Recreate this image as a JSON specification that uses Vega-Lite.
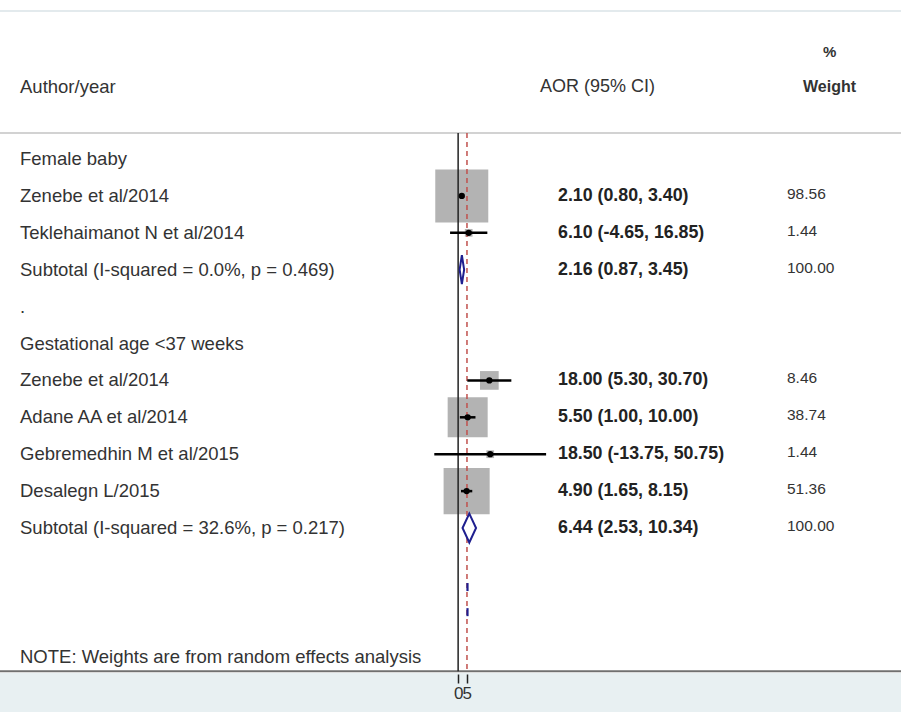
{
  "$schema": "https://vega.github.io/schema/vega-lite/v6.json",
  "width": 901,
  "height": 712,
  "padding": 0,
  "autosize": {"type": "none"},
  "background": "white",
  "config": {"view": {"stroke": null}, "font": "Liberation Sans"},
  "datasets": {
    "rows": [
      {"row": 1, "kind": "group", "label": "Female baby"},
      {"row": 2, "kind": "study", "label": "Zenebe et al/2014", "est": 2.10, "lci": 0.80, "uci": 3.40, "weight": 98.56, "aor": "2.10 (0.80, 3.40)", "wt": "98.56"},
      {"row": 3, "kind": "study", "label": "Teklehaimanot N et al/2014", "est": 6.10, "lci": -4.65, "uci": 16.85, "weight": 1.44, "aor": "6.10 (-4.65, 16.85)", "wt": "1.44"},
      {"row": 4, "kind": "subtotal", "label": "Subtotal  (I-squared = 0.0%, p = 0.469)", "est": 2.16, "lci": 0.87, "uci": 3.45, "weight": 100, "aor": "2.16 (0.87, 3.45)", "wt": "100.00"},
      {"row": 5, "kind": "spacer", "label": "."},
      {"row": 6, "kind": "group", "label": "Gestational age <37 weeks"},
      {"row": 7, "kind": "study", "label": "Zenebe et al/2014", "est": 18.00, "lci": 5.30, "uci": 30.70, "weight": 8.46, "aor": "18.00 (5.30, 30.70)", "wt": "8.46"},
      {"row": 8, "kind": "study", "label": "Adane AA et al/2014", "est": 5.50, "lci": 1.00, "uci": 10.00, "weight": 38.74, "aor": "5.50 (1.00, 10.00)", "wt": "38.74"},
      {"row": 9, "kind": "study", "label": "Gebremedhin M et al/2015", "est": 18.50, "lci": -13.75, "uci": 50.75, "weight": 1.44, "aor": "18.50 (-13.75, 50.75)", "wt": "1.44"},
      {"row": 10, "kind": "study", "label": "Desalegn L/2015", "est": 4.90, "lci": 1.65, "uci": 8.15, "weight": 51.36, "aor": "4.90 (1.65, 8.15)", "wt": "51.36"},
      {"row": 11, "kind": "subtotal", "label": "Subtotal  (I-squared = 32.6%, p = 0.217)", "est": 6.44, "lci": 2.53, "uci": 10.34, "weight": 100, "aor": "6.44 (2.53, 10.34)", "wt": "100.00"},
      {"row": 14.5, "kind": "note", "label": "NOTE: Weights are from random effects analysis"}
    ],
    "dashes": [
      {"row": 12.6, "x": 5.4},
      {"row": 13.28, "x": 5.4}
    ]
  },
  "data": {"name": "rows"},
  "layer": [
    {
      "data": {"values": [{}]},
      "mark": {"type": "rect", "color": "#e8f0f2"},
      "encoding": {
        "y": {"datum": 14.93, "type": "quantitative", "scale": {"domain": [-3.309, 15.986], "reverse": true, "nice": false, "zero": false}, "axis": null},
        "y2": {"datum": 15.986}
      }
    },
    {
      "data": {"values": [{}]},
      "mark": {"type": "rule", "color": "#e3eaed", "strokeWidth": 2},
      "encoding": {"y": {"datum": -3.011, "type": "quantitative", "axis": null}}
    },
    {
      "data": {"values": [{}]},
      "mark": {"type": "rule", "color": "#d2d2d2", "strokeWidth": 2},
      "encoding": {"y": {"datum": 0.295, "type": "quantitative", "axis": null}}
    },
    {
      "data": {"values": [{}]},
      "mark": {"type": "rule", "color": "#707070", "strokeWidth": 2},
      "encoding": {"y": {"datum": 14.88, "type": "quantitative", "axis": null}}
    },
    {
      "transform": [{"filter": "datum.kind === 'study'"}],
      "mark": {"type": "point", "shape": "square", "filled": true, "color": "#b3b3b3", "opacity": 1},
      "encoding": {
        "x": {"field": "est", "type": "quantitative", "scale": {"domain": [-22, 53], "range": [420, 550], "nice": false, "zero": false},
              "axis": {"values": [0, 5], "orient": "bottom", "offset": -38, "zindex": 2, "domain": false, "grid": false, "tickSize": 9, "tickColor": "#222", "tickWidth": 1.5, "labelFontSize": 17, "labelColor": "#333", "labelPadding": 2, "labelOverlap": false, "labelFlush": false, "labelBound": false, "title": null}},
        "y": {"field": "row", "type": "quantitative", "axis": null},
        "size": {"field": "weight", "type": "quantitative", "scale": {"type": "linear", "domain": [0, 68], "range": [0, 2809], "clamp": true, "zero": true}, "legend": null}
      }
    },
    {
      "data": {"values": [{}]},
      "mark": {"type": "rule", "color": "#222", "strokeWidth": 1.5},
      "encoding": {"x": {"datum": 0, "type": "quantitative"}, "y": {"datum": 0.295, "type": "quantitative", "axis": null}, "y2": {"datum": 14.88}}
    },
    {
      "data": {"values": [{}]},
      "mark": {"type": "rule", "color": "#c0504d", "strokeWidth": 1.5, "strokeDash": [5, 4]},
      "encoding": {"x": {"datum": 5.1, "type": "quantitative"}, "y": {"datum": 0.295, "type": "quantitative", "axis": null}, "y2": {"datum": 14.85}}
    },
    {
      "transform": [{"filter": "datum.kind === 'study'"}],
      "mark": {"type": "rule", "color": "#000", "strokeWidth": 2.5},
      "encoding": {"x": {"field": "lci", "type": "quantitative"}, "x2": {"field": "uci"}, "y": {"field": "row", "type": "quantitative", "axis": null}}
    },
    {
      "transform": [{"filter": "datum.kind === 'study'"}],
      "mark": {"type": "point", "shape": "circle", "filled": true, "color": "#000", "opacity": 1, "size": 40},
      "encoding": {"x": {"field": "est", "type": "quantitative"}, "y": {"field": "row", "type": "quantitative", "axis": null}}
    },
    {
      "transform": [{"filter": "datum.kind === 'subtotal'"}],
      "mark": {"type": "point", "filled": true, "fill": "white", "stroke": "#1f1f8f", "strokeWidth": 2, "opacity": 1, "size": 841},
      "encoding": {
        "x": {"field": "est", "type": "quantitative"},
        "y": {"field": "row", "type": "quantitative", "axis": null},
        "shape": {"field": "row", "type": "nominal", "scale": {"domain": [4, 11], "range": ["M-0.155,0L0,-1L0.155,0L0,1Z", "M-0.466,0L0,-1L0.466,0L0,1Z"]}, "legend": null}
      }
    },
    {
      "data": {"name": "dashes"},
      "mark": {"type": "point", "shape": "M0,-1L0,1", "stroke": "#1f1f8f", "strokeWidth": 2.2, "opacity": 1, "size": 64},
      "encoding": {"x": {"field": "x", "type": "quantitative"}, "y": {"field": "row", "type": "quantitative", "axis": null}}
    },
    {
      "mark": {"type": "text", "align": "left", "baseline": "middle", "fontSize": 18.5, "color": "#333"},
      "encoding": {"x": {"value": 20}, "y": {"field": "row", "type": "quantitative", "axis": null}, "text": {"field": "label"}}
    },
    {
      "transform": [{"filter": "isValid(datum.aor)"}],
      "mark": {"type": "text", "align": "left", "baseline": "middle", "fontSize": 17.8, "fontWeight": "bold", "color": "#222"},
      "encoding": {"x": {"value": 558}, "y": {"field": "row", "type": "quantitative", "axis": null}, "text": {"field": "aor"}}
    },
    {
      "transform": [{"filter": "isValid(datum.wt)"}],
      "mark": {"type": "text", "align": "left", "baseline": "middle", "fontSize": 15.5, "color": "#333", "dy": -2},
      "encoding": {"x": {"value": 787}, "y": {"field": "row", "type": "quantitative", "axis": null}, "text": {"field": "wt"}}
    },
    {
      "data": {"values": [{"row": -0.95, "text": "Author/year"}]},
      "mark": {"type": "text", "align": "left", "baseline": "middle", "fontSize": 18.5, "color": "#333"},
      "encoding": {"x": {"value": 20}, "y": {"field": "row", "type": "quantitative", "axis": null}, "text": {"field": "text"}}
    },
    {
      "data": {"values": [{"row": -0.95, "text": "AOR (95% CI)"}]},
      "mark": {"type": "text", "align": "left", "baseline": "middle", "fontSize": 18, "color": "#333"},
      "encoding": {"x": {"value": 540}, "y": {"field": "row", "type": "quantitative", "axis": null}, "text": {"field": "text"}}
    },
    {
      "data": {"values": [{"row": -0.95, "text": "Weight"}]},
      "mark": {"type": "text", "align": "left", "baseline": "middle", "fontSize": 16, "fontWeight": "bold", "color": "#333"},
      "encoding": {"x": {"value": 803}, "y": {"field": "row", "type": "quantitative", "axis": null}, "text": {"field": "text"}}
    },
    {
      "data": {"values": [{"row": -1.9, "text": "%"}]},
      "mark": {"type": "text", "align": "left", "baseline": "middle", "fontSize": 15, "fontWeight": "bold", "color": "#333"},
      "encoding": {"x": {"value": 823}, "y": {"field": "row", "type": "quantitative", "axis": null}, "text": {"field": "text"}}
    }
  ]
}
